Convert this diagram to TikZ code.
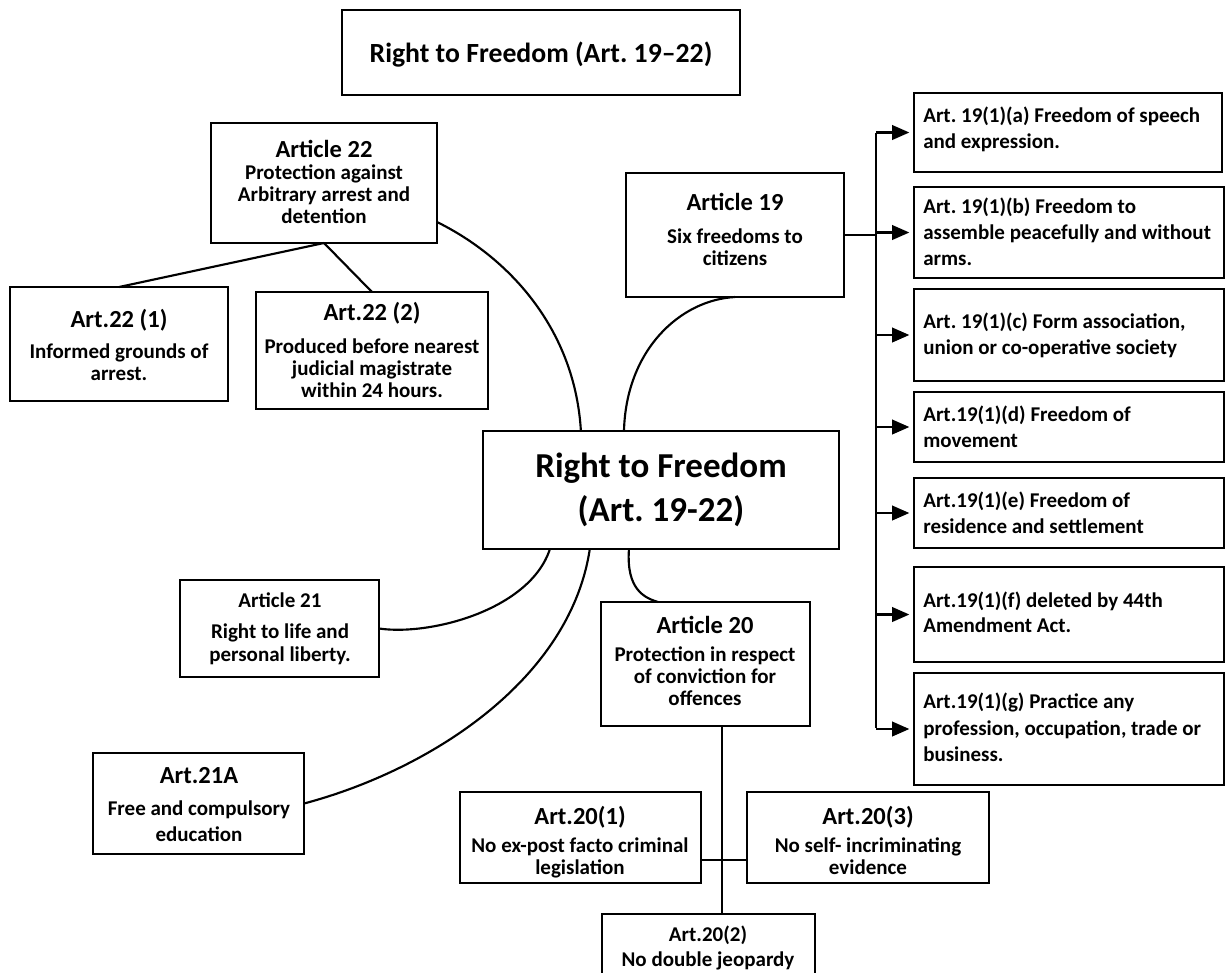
\documentclass[tikz,border=0pt]{standalone}
\usepackage{fontspec}
\setmainfont{Carlito}
\frenchspacing
\usetikzlibrary{calc,arrows.meta}
\newcommand\mkbox[5]{%
 \pgfmathsetmacro\mybw{(#4-#2)*0.75}%
 \pgfmathsetmacro\mybh{(#5-#3)*0.75}%
 \node[boxst, minimum width=\mybw pt, minimum height=\mybh pt] (#1) at ({(#2+#4)/2},{(#3+#5)/2}) {};}
\newcommand\txc[4]{\node[#1, anchor=base] (#2) at (#3) {#4};}
\newcommand\txl[4]{\node[#1, anchor=base west] (#2) at (#3) {#4};}
\begin{document}
\begin{tikzpicture}[x=0.75pt,y=-0.75pt,
 boxst/.style={draw, line width=1.8pt, inner sep=0pt, outer sep=0pt},
 body/.style={font=\fontsize{15.75}{18}\selectfont\bfseries, inner sep=0pt},
 head/.style={font=\fontsize{18.4}{21}\selectfont\bfseries, inner sep=0pt},
 titlef/.style={font=\fontsize{20.8}{24}\selectfont\bfseries, inner sep=0pt},
 centerf/.style={font=\fontsize{26.25}{30}\selectfont\bfseries, inner sep=0pt},
 conn/.style={line width=1.6pt},
 arrowst/.style={line width=1.6pt, -{Triangle[length=13pt,width=11pt]}, shorten >=3.5pt},
]
\clip (0,0) rectangle (1226,972);
\fill[white] (0,0) rectangle (1226,972);

% boxes
\mkbox{title}{342}{10}{740}{95}
\mkbox{ctr}{483}{431}{839}{549}
\mkbox{a22}{211}{123}{437}{243}
\mkbox{a221}{10}{287}{228}{401}
\mkbox{a222}{256}{292}{488}{409}
\mkbox{a19}{626}{173}{844}{297}
\mkbox{ra}{914}{93}{1222}{172}
\mkbox{rb}{914}{187}{1224}{278}
\mkbox{rc}{914}{289}{1224}{381}
\mkbox{rd}{914}{392}{1224}{462}
\mkbox{re}{914}{478}{1224}{548}
\mkbox{rf}{914}{567}{1224}{662}
\mkbox{rg}{914}{673}{1224}{785}
\mkbox{a21}{180}{580}{379}{677}
\mkbox{a21a}{93}{753}{304}{854}
\mkbox{a20}{601}{602}{810}{726}
\mkbox{a201}{460}{792}{701}{883}
\mkbox{a203}{747}{792}{989}{883}
\mkbox{a202}{602}{914}{815}{990}

% texts
\txc{titlef}{t-title}{541,62}{Right to Freedom (Art. 19–22)}
\txc{centerf}{t-ctr1}{661,477}{Right to Freedom}
\txc{centerf}{t-ctr2}{661,521}{(Art. 19-22)}

\txc{head}{t-a22h}{324,157}{Article 22}
\txc{body}{t-a22b1}{324,179}{Protection against}
\txc{body}{t-a22b2}{324,201}{Arbitrary arrest and}
\txc{body}{t-a22b3}{324,223}{detention}

\txc{head}{t-a221h}{119,327}{Art.22 (1)}
\txc{body}{t-a221b1}{119,358}{Informed grounds of}
\txc{body}{t-a221b2}{119,380}{arrest.}

\txc{head}{t-a222h}{372,320}{Art.22 (2)}
\txc{body}{t-a222b1}{372,353}{Produced before nearest}
\txc{body}{t-a222b2}{372,375}{judicial magistrate}
\txc{body}{t-a222b3}{372,397}{within 24 hours.}

\txc{head}{t-a19h}{735,210}{Article 19}
\txc{body}{t-a19b1}{735,243}{Six freedoms to}
\txc{body}{t-a19b2}{735,265}{citizens}

\txl{body}{t-ra1}{923,122}{Art. 19(1)(a) Freedom of speech}
\txl{body}{t-ra2}{923,148}{and expression.}
\txl{body}{t-rb1}{923,213}{Art. 19(1)(b) Freedom to}
\txl{body}{t-rb2}{923,239}{assemble peacefully and without}
\txl{body}{t-rb3}{923,265}{arms.}
\txl{body}{t-rc1}{923,328}{Art. 19(1)(c) Form association,}
\txl{body}{t-rc2}{923,354}{union or co-operative society}
\txl{body}{t-rd1}{923,421}{Art.19(1)(d) Freedom of}
\txl{body}{t-rd2}{923,447}{movement}
\txl{body}{t-re1}{923,507}{Art.19(1)(e) Freedom of}
\txl{body}{t-re2}{923,533}{residence and settlement}
\txl{body}{t-rf1}{923,607}{Art.19(1)(f) deleted by 44th}
\txl{body}{t-rf2}{923,632}{Amendment Act.}
\txl{body}{t-rg1}{923,708}{Art.19(1)(g) Practice any}
\txl{body}{t-rg2}{923,735}{profession, occupation, trade or}
\txl{body}{t-rg3}{923,761}{business.}

\txc{body}{t-a21h}{280,607}{Article 21}
\txc{body}{t-a21b1}{280,638}{Right to life and}
\txc{body}{t-a21b2}{280,661}{personal liberty.}

\txc{head}{t-a21ah}{199,783}{Art.21A}
\txc{body}{t-a21ab1}{199,815}{Free and compulsory}
\txc{body}{t-a21ab2}{199,841}{education}

\txc{head}{t-a20h}{705,633}{Article 20}
\txc{body}{t-a20b1}{705,661}{Protection in respect}
\txc{body}{t-a20b2}{705,683}{of conviction for}
\txc{body}{t-a20b3}{705,705}{offences}

\txc{head}{t-a201h}{580,824}{Art.20(1)}
\txc{body}{t-a201b1}{580,852}{No ex-post facto criminal}
\txc{body}{t-a201b2}{580,874}{legislation}

\txc{head}{t-a203h}{868,824}{Art.20(3)}
\txc{body}{t-a203b1}{868,852}{No self- incriminating}
\txc{body}{t-a203b2}{868,874}{evidence}

\txc{body}{t-a202h}{708,941}{Art.20(2)}
\txc{body}{t-a202b1}{708,966}{No double jeopardy}

% connectors: Article 22
\draw[conn] (a22.south) -- (a221.north);
\draw[conn] (a22.south) -- (a222.north);
\draw[conn] ($(a22.north east)!0.825!(a22.south east)$) .. controls (510,258) and (575,330) .. ($(ctr.north west)!0.275!(ctr.north east)$);

% Article 19
\draw[conn] (a19.south) .. controls (680,300) and (626,350) .. ($(ctr.north west)!0.396!(ctr.north east)$);
\coordinate (bustop) at (876,133);
\coordinate (busbot) at (876,728);
\draw[conn] (a19.east) -- (a19.east -| bustop);
\draw[conn] (bustop) -- (busbot);
\foreach \n in {ra,rb,rc,rd,re,rf,rg}{
  \draw[arrowst] (\n.west -| bustop) -- (\n.west);
}

% Article 21, 21A
\draw[conn] (a21.east) .. controls (430,636) and (530,610) .. ($(ctr.south west)!0.188!(ctr.south east)$);
\draw[conn] (a21a.east) .. controls (430,770) and (570,680) .. ($(ctr.south west)!0.30!(ctr.south east)$);

% Article 20
\draw[conn] ($(ctr.south west)!0.41!(ctr.south east)$) .. controls (626,590) and (645,598) .. ($(a20.north west)!0.273!(a20.north east)$);
\coordinate (a20b) at ($(a20.south west)!0.579!(a20.south east)$);
\draw[conn] (a20b) -- (a20b |- a202.north);
\draw[conn] ($(a201.north east)!0.747!(a201.south east)$) -- ($(a203.north west)!0.747!(a203.south west)$);
\end{tikzpicture}
\end{document}
